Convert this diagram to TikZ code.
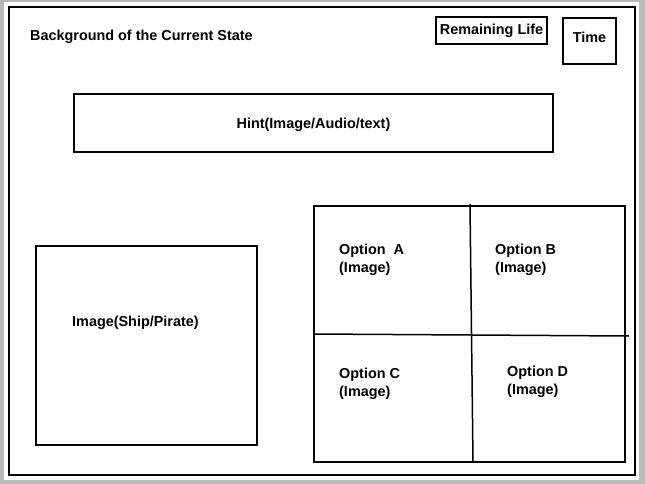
\documentclass[tikz,border=0pt]{standalone}
\usepackage{fontspec}
\setmainfont{Liberation Sans}
\usetikzlibrary{positioning}

\tikzset{
	box/.style={draw,line width=2pt,inner sep=0pt},
	label text/.style={font=\bfseries\fontsize{14.4}{17.5}\selectfont,inner sep=0pt},
	option text/.style={label text,align=left,anchor=north west},
	grid line/.style={line width=1.5pt},
}

\begin{document}
\begin{tikzpicture}[x=1pt,y=-1pt]
	\useasboundingbox (0,0) rectangle (645,484);
	% window shadow and page
	\fill[gray!55] (0,0) rectangle (645,484);
	\fill[white] (4,2) rectangle (639,480);
	\draw[line width=2pt] (9,7) rectangle (635,475);

	% header
	\node[label text,anchor=west] (bg) at (30,36.5) {Background of the Current State};
	\node[box,label text,minimum width=111pt,minimum height=27pt] (life) at (491.5,30.5) {Remaining Life};
	\node[box,label text,text depth=7pt,minimum width=53pt,minimum height=46pt] (time) at (589.5,41) {Time};
	\node[box,label text,text depth=0pt,minimum width=479pt,minimum height=58pt] (hint) at (313.5,123) {Hint(Image/Audio/text)};

	% left picture
	\node[box,minimum width=221pt,minimum height=199pt] (ship) at (146.5,345.5) {};
	\node[label text,anchor=west] (shiptext) at (72,322.5) {Image(Ship/Pirate)};

	% options grid
	\node[box,minimum width=311pt,minimum height=256pt] (grid) at (469.5,334) {};
	\coordinate (vtop) at (470,204);
	\coordinate (vbot) at (473,462);
	\coordinate (hleft) at (314,334);
	\coordinate (hright) at (629,336);
	\draw[grid line] (vtop) -- (vbot);
	\draw[grid line] (hleft) -- (hright);

	\node[option text] (optA) at (339,244) {Option\ \ A\\(Image)};
	\node[option text] (optB) at (495,244) {Option B\\(Image)};
	\node[option text] (optC) at (339,368) {Option C\\(Image)};
	\node[option text] (optD) at (507,366) {Option D\\(Image)};
\end{tikzpicture}
\end{document}
